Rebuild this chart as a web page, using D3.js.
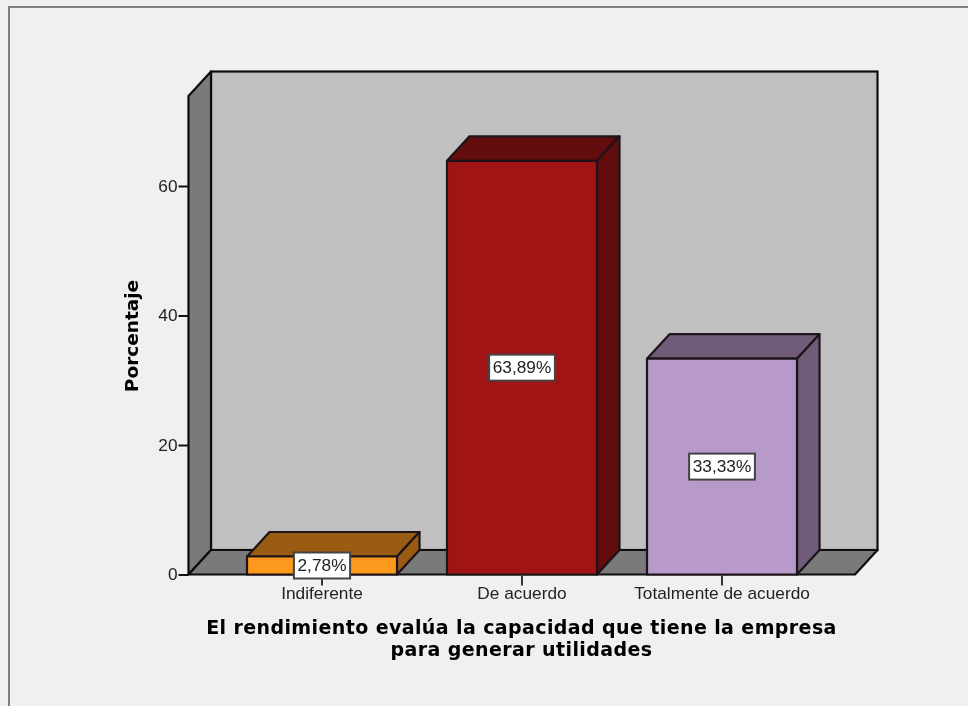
<!DOCTYPE html>
<html>
<head>
<meta charset="utf-8">
<script src="https://d3js.org/d3.v7.min.js"></script>
<style>
  html, body { margin: 0; padding: 0; background: #f0f0f0; }
  svg { display: block; filter: blur(0.4px); }
  .tick text { font-family: "Liberation Sans", sans-serif; font-size: 16px; fill: #222; }
  .bold-title { font-family: "DejaVu Sans", sans-serif; font-weight: bold; fill: #000; }
</style>
</head>
<body>
<div id="chart"></div>
<script>
const categories = ["Indiferente", "De acuerdo", "Totalmente de acuerdo"];
const percentages = [2.78, 63.89, 33.33];
const valueLabels = ["2,78%", "63,89%", "33,33%"];
const yTicks = [0, 20, 40, 60];
const frontColors = ["#fd9a1e", "#a01416", "#b89aca"];
const sideColors = ["#9a5c12", "#620c0e", "#705c78"];
const xTitleLines = ["El rendimiento evalúa la capacidad que tiene la empresa", "para generar utilidades"];

const width = 968;
const height = 706;
const floorLeft = 188.5;
const floorRight = 855;
const depthX = 22.5;
const depthY = 24.5;
const textStretch = 1.08; // the labels in the picture are wider than Liberation Sans

const svg = d3.select("#chart")
  .append("svg")
    .attr("width", width)
    .attr("height", height);

// outer frame, only left and top show in the picture
svg.append("path")
  .attr("d", `M9,${height + 5} V7 H${width + 5}`)
  .attr("fill", "none")
  .attr("stroke", "#808080")
  .attr("stroke-width", 2);

const xScale = d3.scaleBand()
  .domain(categories)
  .range([222, 822])
  .paddingInner(0.25)
  .paddingOuter(0.125);

const yScale = d3.scaleLinear()
  .domain([0, 73.9])
  .range([574.5, 96]);

const wallStroke = "#0c0c0c";
const yBase = yScale(0);
const yTop = yScale(73.9);

// back wall
svg.append("rect")
  .attr("x", floorLeft + depthX)
  .attr("y", yTop - depthY)
  .attr("width", floorRight - floorLeft)
  .attr("height", yBase - yTop)
  .attr("fill", "#c0c0c0")
  .attr("stroke", wallStroke)
  .attr("stroke-width", 2.2);

// left wall
svg.append("path")
  .attr("d", `M${floorLeft},${yBase} V${yTop} L${floorLeft + depthX},${yTop - depthY} V${yBase - depthY} Z`)
  .attr("fill", "#7a7a7a")
  .attr("stroke", wallStroke)
  .attr("stroke-width", 2.2)
  .attr("stroke-linejoin", "round");

// floor
svg.append("path")
  .attr("d", `M${floorLeft},${yBase} H${floorRight} L${floorRight + depthX},${yBase - depthY} H${floorLeft + depthX} Z`)
  .attr("fill", "#7a7a7a")
  .attr("stroke", wallStroke)
  .attr("stroke-width", 2.2)
  .attr("stroke-linejoin", "round");

const bars = svg.selectAll(".bar")
  .data(categories)
  .join("g")
    .attr("class", "bar");

// top of each bar
bars.append("path")
  .attr("d", (d, i) => {
    const x0 = xScale(d), x1 = x0 + xScale.bandwidth(), y = yScale(percentages[i]);
    return `M${x0},${y} L${x0 + depthX},${y - depthY} H${x1 + depthX} L${x1},${y} Z`;
  })
  .attr("fill", (d, i) => sideColors[i]);

// right side of each bar
bars.append("path")
  .attr("d", (d, i) => {
    const x1 = xScale(d) + xScale.bandwidth(), y = yScale(percentages[i]);
    return `M${x1},${y} L${x1 + depthX},${y - depthY} V${yBase - depthY} L${x1},${yBase} Z`;
  })
  .attr("fill", (d, i) => sideColors[i]);

bars.append("rect")
  .attr("x", d => xScale(d))
  .attr("y", (d, i) => yScale(percentages[i]))
  .attr("width", xScale.bandwidth())
  .attr("height", (d, i) => yBase - yScale(percentages[i]))
  .attr("fill", (d, i) => frontColors[i]);

bars.selectAll("path, rect")
  .attr("stroke", "#1c1418")
  .attr("stroke-width", 2.2)
  .attr("stroke-linejoin", "round");

const leftAxis = d3.axisLeft(yScale)
  .tickValues(yTicks)
  .tickSize(10)
  .tickPadding(1)
  .tickSizeOuter(0);

const yAxisG = svg.append("g")
  .attr("transform", `translate(${floorLeft}, 0)`)
  .call(leftAxis);
yAxisG.select(".domain").remove();
yAxisG.selectAll(".tick line").attr("stroke", "#111").attr("stroke-width", 2);
yAxisG.selectAll(".tick text")
  .attr("x", 0)
  .attr("transform", `translate(-11, 0) scale(${textStretch}, 1)`);

const bottomAxis = d3.axisBottom(xScale)
  .tickSize(11)
  .tickPadding(2)
  .tickSizeOuter(0);

const xAxisG = svg.append("g")
  .attr("transform", `translate(0, ${yBase})`)
  .call(bottomAxis);
xAxisG.select(".domain").remove();
xAxisG.selectAll(".tick line").attr("stroke", "#333").attr("stroke-width", 2);
xAxisG.selectAll(".tick text").attr("transform", `scale(${textStretch}, 1)`);

// value labels sit in the middle of each bar
const labels = svg.selectAll(".value-label")
  .data(categories)
  .join("g")
    .attr("class", "value-label")
    .attr("transform", (d, i) => `translate(${xScale(d) + xScale.bandwidth() / 2}, ${yScale(percentages[i] / 2)})`);

labels.append("text")
  .attr("text-anchor", "middle")
  .attr("dy", "0.36em")
  .attr("font-family", "Liberation Sans, sans-serif")
  .attr("font-size", 16)
  .attr("fill", "#222")
  .attr("transform", `scale(${textStretch}, 1)`)
  .text((d, i) => valueLabels[i]);

const labelWidth = node => node.parentNode.querySelector("text").getBBox().width * textStretch + 7;

labels.insert("rect", "text")
  .attr("x", function () { return -labelWidth(this) / 2; })
  .attr("y", -13)
  .attr("width", function () { return labelWidth(this); })
  .attr("height", 26)
  .attr("fill", "#fff")
  .attr("stroke", "#444")
  .attr("stroke-width", 2);

svg.append("text")
  .attr("class", "bold-title")
  .attr("transform", "translate(138, 336) rotate(-90)")
  .attr("text-anchor", "middle")
  .attr("font-size", 18.5)
  .text("Porcentaje");

svg.append("g")
  .selectAll("text")
  .data(xTitleLines)
  .join("text")
    .attr("class", "bold-title")
    .attr("x", 521.5)
    .attr("y", (d, i) => 634 + i * 21.5)
    .attr("text-anchor", "middle")
    .attr("font-size", 19)
    .attr("letter-spacing", 0.4)
    .text(d => d);
</script>
</body>
</html>
